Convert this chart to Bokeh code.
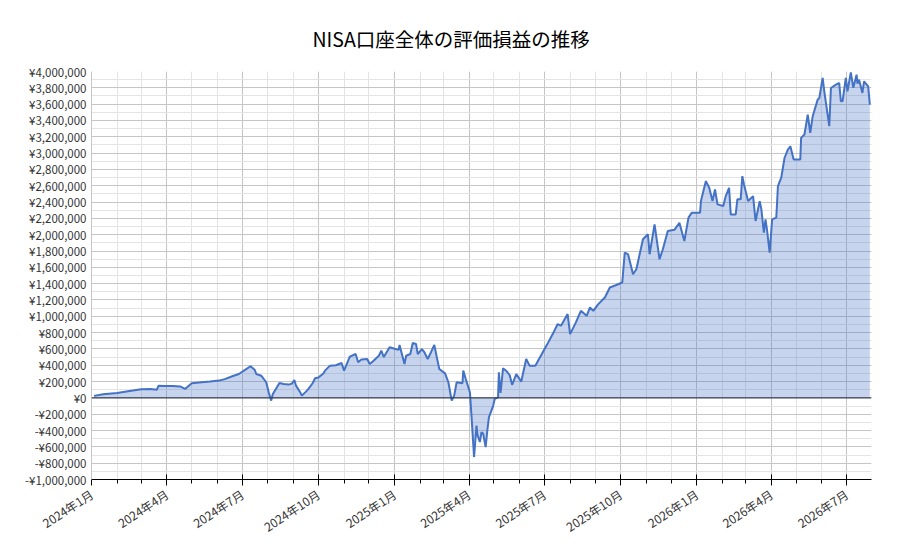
import datetime as dt
from bokeh.plotting import figure
from bokeh.models import Range1d, FixedTicker, CustomJSTickFormatter, Span, ColumnDataSource
from bokeh.embed import file_html
from bokeh.resources import INLINE

TITLE = "NISA口座全体の評価損益の推移"

DATES = [
    "2024-01-04", "2024-01-15", "2024-02-01", "2024-02-16", "2024-03-01", "2024-03-12", "2024-03-20",
    "2024-03-22", "2024-03-29", "2024-04-08", "2024-04-17", "2024-04-23", "2024-05-01", "2024-05-10",
    "2024-05-23", "2024-06-03", "2024-06-10", "2024-06-19", "2024-06-27", "2024-07-04", "2024-07-11",
    "2024-07-16", "2024-07-18", "2024-07-24", "2024-07-30", "2024-08-02", "2024-08-05", "2024-08-07",
    "2024-08-15", "2024-08-20", "2024-08-26", "2024-08-30", "2024-09-02", "2024-09-04", "2024-09-09",
    "2024-09-11", "2024-09-16", "2024-09-19", "2024-09-24", "2024-09-27", "2024-10-01", "2024-10-07",
    "2024-10-09", "2024-10-15", "2024-10-22", "2024-10-29", "2024-11-01", "2024-11-08", "2024-11-15",
    "2024-11-18", "2024-11-22", "2024-11-29", "2024-12-02", "2024-12-06", "2024-12-13", "2024-12-16",
    "2024-12-19", "2024-12-26", "2025-01-02", "2025-01-06", "2025-01-07", "2025-01-13", "2025-01-15",
    "2025-01-20", "2025-01-23", "2025-01-27", "2025-01-29", "2025-02-03", "2025-02-06", "2025-02-10",
    "2025-02-14", "2025-02-18", "2025-02-21", "2025-02-24", "2025-03-03", "2025-03-07", "2025-03-11",
    "2025-03-14", "2025-03-17", "2025-03-24", "2025-03-25", "2025-03-28", "2025-04-02", "2025-04-04",
    "2025-04-07", "2025-04-10", "2025-04-11", "2025-04-14", "2025-04-16", "2025-04-18", "2025-04-21",
    "2025-04-23", "2025-04-25", "2025-04-30", "2025-05-02", "2025-05-06", "2025-05-07", "2025-05-09",
    "2025-05-12", "2025-05-16", "2025-05-20", "2025-05-23", "2025-05-28", "2025-06-03", "2025-06-09",
    "2025-06-13", "2025-06-20", "2025-06-30", "2025-07-04", "2025-07-11", "2025-07-17", "2025-07-21",
    "2025-07-29", "2025-08-01", "2025-08-08", "2025-08-14", "2025-08-21", "2025-08-25", "2025-08-29",
    "2025-09-04", "2025-09-12", "2025-09-18", "2025-09-25", "2025-10-03", "2025-10-06", "2025-10-10",
    "2025-10-16", "2025-10-20", "2025-10-28", "2025-11-03", "2025-11-05", "2025-11-11", "2025-11-17",
    "2025-11-21", "2025-11-27", "2025-12-05", "2025-12-11", "2025-12-17", "2025-12-22", "2025-12-26",
    "2026-01-05", "2026-01-06", "2026-01-12", "2026-01-16", "2026-01-20", "2026-01-23", "2026-01-26",
    "2026-02-02", "2026-02-05", "2026-02-09", "2026-02-11", "2026-02-17", "2026-02-19", "2026-02-23",
    "2026-02-25", "2026-02-27", "2026-03-04", "2026-03-10", "2026-03-13", "2026-03-18", "2026-03-20",
    "2026-03-23", "2026-03-25", "2026-03-27", "2026-03-30", "2026-04-02", "2026-04-07", "2026-04-09",
    "2026-04-13", "2026-04-17", "2026-04-21", "2026-04-24", "2026-04-28", "2026-05-06", "2026-05-07",
    "2026-05-11", "2026-05-13", "2026-05-15", "2026-05-18", "2026-05-21", "2026-05-27", "2026-05-29",
    "2026-06-02", "2026-06-04", "2026-06-08", "2026-06-10", "2026-06-12", "2026-06-18", "2026-06-22",
    "2026-06-24", "2026-06-26", "2026-06-30", "2026-07-02", "2026-07-06", "2026-07-09", "2026-07-13",
    "2026-07-14", "2026-07-16", "2026-07-20", "2026-07-22", "2026-07-27", "2026-07-29",
]

# valuation gain/loss in thousands of yen
VALUES_K = [
    25, 45, 61, 85, 106, 110, 100,
    150, 145, 147, 140, 110, 180, 190,
    200, 212, 230, 265, 293, 340, 388,
    346, 293, 272, 192, 70, -33, 49,
    183, 170, 163, 175, 220, 150, 70,
    28, 77, 110, 180, 240, 250, 300,
    334, 395, 400, 428, 334, 505, 538,
    436, 470, 477, 416, 450, 517, 578,
    500, 620, 600, 590, 648, 416, 517,
    538, 672, 660, 538, 599, 560, 477,
    560, 648, 500, 354, 300, 192, -33,
    28, 192, 180, 334, 232, 70, -236,
    -725, -338, -450, -541, -420, -440, -603,
    -400, -236, -100, -12, 8, 314, 60,
    363, 330, 280, 160, 293, 200, 477,
    395, 395, 578, 650, 782, 905, 885,
    1027, 782, 925, 1067, 1006, 1108, 1067,
    1149, 1231, 1353, 1380, 1414, 1781, 1760,
    1516, 1577, 1944, 2005, 1760, 2127, 1699,
    1821, 2045, 2060, 2147, 1923, 2209, 2270,
    2270, 2412, 2657, 2575, 2412, 2555, 2372,
    2351, 2473, 2575, 2249, 2249, 2433, 2433,
    2718, 2616, 2412, 2473, 2168, 2412, 2311,
    2025, 2188, 2045, 1781, 2188, 2209, 2596,
    2698, 2943, 3044, 3084, 2922, 2922, 3187,
    3228, 3350, 3472, 3248, 3452, 3655, 3676,
    3921, 3757, 3472, 3330, 3798, 3839, 3859,
    3635, 3635, 3921, 3757, 3990, 3800, 3961,
    3850, 3900, 3737, 3880, 3818, 3594,
]

X_START = "2024-01-01"
X_END = "2026-07-31"
Y_MIN = -1_000_000
Y_MAX = 4_000_000
Y_MAJOR = 200_000
Y_MINOR = 100_000

LINE_COLOR = "#4472c4"
FONT = "Noto Sans CJK JP"


def to_dt(s):
    return dt.datetime.strptime(s, "%Y-%m-%d")


EPOCH = dt.datetime(1970, 1, 1)


def ms(d):
    return (d - EPOCH).total_seconds() * 1000.0


xs = [to_dt(d) for d in DATES]
ys = [v * 1000 for v in VALUES_K]
src = ColumnDataSource(data=dict(x=xs, y=ys))

x0, x1 = to_dt(X_START), to_dt(X_END)

# month-start ticks
months = []
y, m = x0.year, x0.month
while True:
    d = dt.datetime(y, m, 1)
    if d > x1:
        break
    months.append(d)
    m += 1
    if m > 12:
        m = 1
        y += 1
major_x = [ms(d) for d in months if (d.month - 1) % 3 == 0]
minor_x = [ms(d) for d in months]
xticker = FixedTicker(ticks=major_x, minor_ticks=minor_x)

major_y = list(range(Y_MIN, Y_MAX + 1, Y_MAJOR))
minor_y = list(range(Y_MIN, Y_MAX + 1, Y_MINOR))
yticker = FixedTicker(ticks=major_y, minor_ticks=minor_y)

p = figure(
    width=883, height=544,
    x_axis_type="datetime",
    x_range=Range1d(x0, x1), y_range=Range1d(Y_MIN, Y_MAX),
    output_backend="svg", toolbar_location=None,
    min_border_left=91, min_border_right=12, min_border_top=71, min_border_bottom=64,
)
p.outline_line_color = None
p.background_fill_color = "white"

p.title.text = TITLE
p.title.align = "left"
p.title.offset = 221
p.title.standoff = 38
p.title.text_font = FONT
p.title.text_font_size = "19.5px"
p.title.text_font_style = "normal"
p.title.text_color = "#000000"

p.varea(x="x", y1=0, y2="y", source=src, fill_color=LINE_COLOR, fill_alpha=0.3)
p.line(x="x", y="y", source=src, line_color=LINE_COLOR, line_width=2)
p.add_layout(Span(location=0, dimension="width", line_color="#3c4252", line_width=1.2))

# grids
p.xgrid.ticker = xticker
p.xgrid.grid_line_color = "#c6c6c6"
p.xgrid.minor_grid_line_color = "#e4e4e4"
p.ygrid.ticker = yticker
p.ygrid.grid_line_color = "#c6c6c6"
p.ygrid.minor_grid_line_color = "#e4e4e4"

# x axis
xa = p.xaxis[0]
xa.ticker = xticker
xa.formatter = CustomJSTickFormatter(code="""
const d = new Date(tick);
return d.getUTCFullYear() + "年" + (d.getUTCMonth() + 1) + "月";
""")
xa.major_label_orientation = 0.58
xa.axis_line_color = "black"
xa.major_tick_line_color = "black"
xa.minor_tick_line_color = "black"
xa.major_tick_in = 5
xa.major_tick_out = 6
xa.minor_tick_in = 0
xa.minor_tick_out = 4
xa.major_label_standoff = 7
xa.major_label_text_font = FONT
xa.major_label_text_font_size = "12px"
xa.major_label_text_color = "#333333"

# y axis
ya = p.yaxis[0]
ya.ticker = yticker
ya.formatter = CustomJSTickFormatter(code="""
const a = Math.round(Math.abs(tick)).toString().replace(/\\B(?=(\\d{3})+(?!\\d))/g, ",");
return (tick < 0 ? "-" : "") + "¥" + a;
""")
ya.axis_line_color = "#c6c6c6"
ya.major_tick_line_color = None
ya.minor_tick_line_color = None
ya.major_tick_out = 0
ya.minor_tick_out = 0
ya.major_tick_in = 0
ya.minor_tick_in = 0
ya.major_label_standoff = 5
ya.major_label_text_font = FONT
ya.major_label_text_font_size = "11.5px"
ya.major_label_text_color = "#333333"

open("out.html", "w").write(file_html(p, INLINE))
